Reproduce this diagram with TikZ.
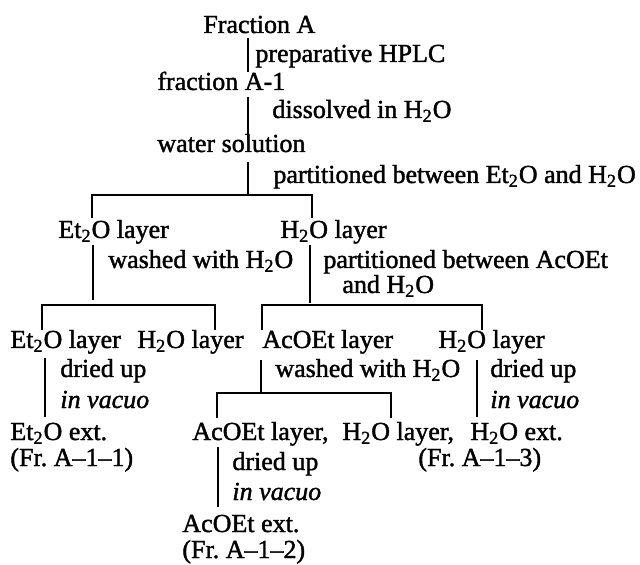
\documentclass[tikz,border=0pt]{standalone}
\usepackage{fontspec}
\setmainfont{Liberation Serif}[FakeBold=1.5]
\newcommand{\HtwoO}{H\textsubscript{2}O}
\newcommand{\EttwoO}{Et\textsubscript{2}O}
\tikzset{
  lbl/.style={anchor=base west,inner sep=0pt,font=\fontsize{13}{15}\selectfont\frenchspacing},
  ln/.style={line width=0.9pt,line cap=butt}
}
\begin{document}
\begin{tikzpicture}[x=0.5pt,y=-0.5pt]
\useasboundingbox (0,0) rectangle (640,565);
% texts
\node[lbl] (fa)   at (203,33)  {Fraction A};
\node[lbl] (l1)   at (255,62)  {preparative HPLC};
\node[lbl] (fa1)  at (157,90)  {fraction A-1};
\node[lbl] (l2)   at (272,118) {dissolved in \HtwoO};
\node[lbl] (ws)   at (157,152) {water solution};
\node[lbl] (l3)   at (273,183) {partitioned between \EttwoO{} and \HtwoO};
\node[lbl] (et1)  at (58,238)  {\EttwoO{} layer};
\node[lbl] (hw1)  at (280,238) {\HtwoO{} layer};
\node[lbl] (l4)   at (108,268) {washed with \HtwoO};
\node[lbl] (l5)   at (323,268) {partitioned between AcOEt};
\node[lbl] (l5b)  at (342,293) {and \HtwoO};
\node[lbl] (et2)  at (10,348)  {\EttwoO{} layer};
\node[lbl] (hw2)  at (137,348) {\HtwoO{} layer};
\node[lbl] (ac2)  at (262,348) {AcOEt layer};
\node[lbl] (hw3)  at (438,348) {\HtwoO{} layer};
\node[lbl] (l6)   at (60,377)  {dried up};
\node[lbl] (l7)   at (60,408)  {\itshape in vacuo};
\node[lbl] (l8)   at (275,377) {washed with \HtwoO};
\node[lbl] (l9)   at (490,377) {dried up};
\node[lbl] (l10)  at (490,408) {\itshape in vacuo};
\node[lbl] (ete)  at (10,440)  {\EttwoO{} ext.};
\node[lbl] (fr1)  at (10,466)  {(Fr. A--1--1)};
\node[lbl] (ac3)  at (192,440) {AcOEt layer,};
\node[lbl] (hw4)  at (342,440) {\HtwoO{} layer,};
\node[lbl] (hwe)  at (470,440) {\HtwoO{} ext.};
\node[lbl] (fr3)  at (418,466) {(Fr. A--1--3)};
\node[lbl] (l11)  at (232,470) {dried up};
\node[lbl] (l12)  at (232,500) {\itshape in vacuo};
\node[lbl] (ace)  at (182,532) {AcOEt ext.};
\node[lbl] (fr2)  at (182,558) {(Fr. A--1--2)};
% connector coordinates
\coordinate (v1t) at (248,38);  \coordinate (v1b) at (248,72);
\coordinate (v2t) at (248,97);  \coordinate (v2b) at (248,140);
\coordinate (v3t) at (248,162); \coordinate (v3b) at (248,195);
\coordinate (b1l) at (92,195);  \coordinate (b1r) at (312,195);
\coordinate (b1lt) at (92,218); \coordinate (b1rt) at (312,218);
\coordinate (v4t) at (93,245);  \coordinate (v4b) at (93,300);
\coordinate (v5t) at (310,245); \coordinate (v5b) at (310,303);
\coordinate (b2l) at (42,305);  \coordinate (b2m) at (215,305);
\coordinate (b2lt) at (42,330); \coordinate (b2mt) at (215,330);
\coordinate (b3l) at (262,305); \coordinate (b3r) at (482,305);
\coordinate (b3lt) at (262,330); \coordinate (b3rt) at (482,330);
\coordinate (v6t) at (45,358);  \coordinate (v6b) at (45,417);
\coordinate (v7t) at (261,360); \coordinate (v7b) at (261,392);
\coordinate (v8t) at (477,360); \coordinate (v8b) at (477,417);
\coordinate (b4l) at (217,393); \coordinate (b4r) at (391,393);
\coordinate (b4lt) at (217,418); \coordinate (b4rt) at (391,418);
\coordinate (v9t) at (218,447); \coordinate (v9b) at (218,507);
% connectors
\draw[ln] (v1t) -- (v1b);
\draw[ln] (v2t) -- (v2b);
\draw[ln] (v3t) -- (v3b);
\draw[ln] (b1lt) -- (b1l) -- (b1r) -- (b1rt);
\draw[ln] (v4t) -- (v4b);
\draw[ln] (v5t) -- (v5b);
\draw[ln] (b2lt) -- (b2l) -- (b2m) -- (b2mt);
\draw[ln] (b3lt) -- (b3l) -- (b3r) -- (b3rt);
\draw[ln] (v6t) -- (v6b);
\draw[ln] (v7t) -- (v7b);
\draw[ln] (v8t) -- (v8b);
\draw[ln] (b4lt) -- (b4l) -- (b4r) -- (b4rt);
\draw[ln] (v9t) -- (v9b);
\end{tikzpicture}
\end{document}
